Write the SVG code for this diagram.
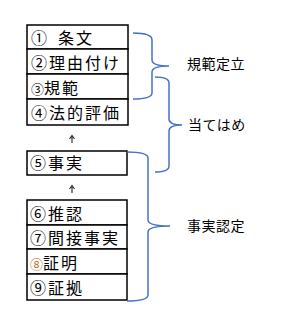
<svg xmlns="http://www.w3.org/2000/svg" width="281" height="326" viewBox="0 0 281 326">
<style>
.box{fill:#fff;stroke:#000;stroke-width:1.5}
.t{font-family:"Noto Sans CJK JP","Noto Sans CJK SC",sans-serif;font-size:16px;letter-spacing:2px;fill:#000}
.s{font-size:13px;letter-spacing:0}
.lab{font-family:"Noto Sans CJK JP","Noto Sans CJK SC",sans-serif;font-size:14px;letter-spacing:0.5px;fill:#000}
.brace{fill:none;stroke:#4472C4;stroke-width:1.5}
.arr{stroke:#333;stroke-width:1.2;fill:none}
</style>
<rect width="281" height="326" fill="#fff"/>
<g id="node1"><rect class="box" x="27" y="25" width="101" height="24"/><text class="t" x="31" y="44">①</text><text class="t" x="58" y="44">条文</text></g>
<g id="node2"><rect class="box" x="27" y="49" width="101" height="25"/><text class="t" x="31" y="69">②理由付け</text></g>
<g id="node3"><rect class="box" x="27" y="74" width="101" height="25"/><text class="t" x="31" y="94"><tspan class="s">③</tspan>規範</text></g>
<g id="node4"><rect class="box" x="27" y="99" width="101" height="26"/><text class="t" x="31" y="119">④法的評価</text></g>
<g id="node5"><rect class="box" x="27" y="151" width="100" height="24"/><text class="t" x="30" y="169">⑤事実</text></g>
<g id="node6"><rect class="box" x="27" y="200" width="100" height="25"/><text class="t" x="30" y="220">⑥推認</text></g>
<g id="node7"><rect class="box" x="27" y="225" width="100" height="24"/><text class="t" x="30" y="244">⑦間接事実</text></g>
<g id="node8"><rect class="box" x="27" y="249" width="100" height="25"/><text class="t" x="30" y="269"><tspan class="s" fill="#b86a25">⑧</tspan>証明</text></g>
<g id="node9"><rect class="box" x="27" y="274" width="100" height="26"/><text class="t" x="30" y="294">⑨証拠</text></g>
<g id="connectors">
<path class="arr" d="M72,143 V136 M69.5,139 L72,135.5 L74.5,139"/>
<path class="arr" d="M72,193 V186 M69.5,189 L72,185.5 L74.5,189"/>
<path class="brace" d="M133,33 Q152,33 152,40 V60 Q152,66 169,66 Q152,66 152,72 V93 Q152,99 133,99"/>
<path class="brace" d="M155,77 Q169,77 169,83 V119 Q169,125 182,125 Q169,125 169,131 V166 Q169,172 155,172"/>
<path class="brace" d="M127,152 Q148,152 148,158 V220 Q148,226 170,226 Q148,226 148,232 V295 Q148,301 127,301"/>
</g>
<g id="labels">
<text class="lab" x="187" y="69">規範定立</text>
<text class="lab" x="188" y="130">当てはめ</text>
<text class="lab" x="187" y="231">事実認定</text>
</g>
</svg>
